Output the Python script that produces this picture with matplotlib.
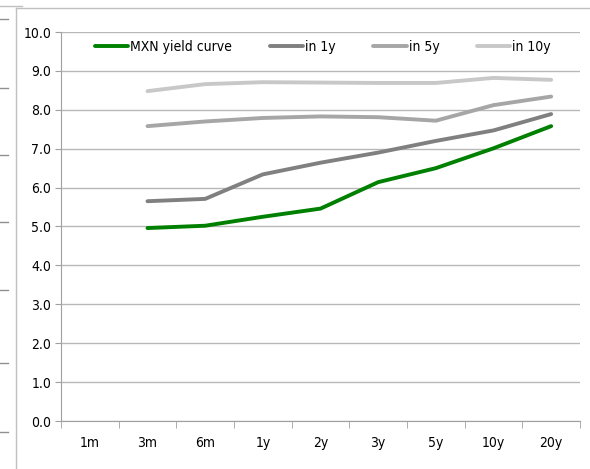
import matplotlib.pyplot as plt
from matplotlib.lines import Line2D

plt.rcParams['font.family'] = ['DejaVu Sans']
plt.rcParams['font.stretch'] = 'condensed'

# tenors and curves
tenors = ['1m', '3m', '6m', '1y', '2y', '3y', '5y', '10y', '20y']
mxn_curve = [None, 4.96, 5.02, 5.25, 5.46, 6.14, 6.50, 7.01, 7.58]
in_1y = [None, 5.65, 5.71, 6.34, 6.64, 6.90, 7.20, 7.47, 7.89]
in_5y = [None, 7.58, 7.70, 7.79, 7.83, 7.81, 7.72, 8.12, 8.34]
in_10y = [None, 8.48, 8.66, 8.71, 8.70, 8.69, 8.69, 8.82, 8.77]

series = [
    ('MXN yield curve', mxn_curve, '#008000'),
    ('in 1y', in_1y, '#808080'),
    ('in 5y', in_5y, '#a6a6a6'),
    ('in 10y', in_10y, '#c8c8c8'),
]

fig = plt.figure(figsize=(5.9, 4.69), dpi=100)
ax = fig.add_axes([61 / 590, 1 - 421 / 469, 519 / 590, 389 / 469])

x = list(range(len(tenors)))
for name, vals, col in series:
    xs = [i for i, v in zip(x, vals) if v is not None]
    ys = [v for v in vals if v is not None]
    ax.plot(xs, ys, color=col, lw=2.8, label=name, solid_capstyle='round', zorder=3)

ax.set_xlim(-0.5, len(tenors) - 0.5)
ax.set_ylim(0, 10)
ax.set_yticks([i for i in range(11)])
ax.set_yticklabels([f'{i:.1f}' for i in range(11)], fontsize=10)
ax.set_xticks(x)
ax.set_xticklabels(tenors, fontsize=10)
ax.tick_params(axis='x', length=0, pad=11)
ax.tick_params(axis='y', length=4, color='#a0a0a0', pad=3)
ax.set_xticks([i - 0.5 for i in range(len(tenors) + 1)], minor=True)
ax.tick_params(axis='x', which='minor', length=5, color='#a0a0a0')
ax.grid(axis='y', color='#b8b8b8', lw=1)
ax.set_axisbelow(True)
for s in ['top', 'right']:
    ax.spines[s].set_visible(False)
ax.spines['left'].set_color('#a0a0a0')
ax.spines['bottom'].set_color('#a0a0a0')

leg = ax.legend(loc='upper center', ncol=4, frameon=False, fontsize=10,
                bbox_to_anchor=(0.505, 1.012), handlelength=2.4, handletextpad=0.15,
                columnspacing=2.7)

# frame of the chart box and stray marks of a neighbouring chart
fig.add_artist(Line2D([16 / 590, 16 / 590], [0, 1 - 8 / 469],
                      transform=fig.transFigure, color='#c0c0c0', lw=1))
fig.add_artist(Line2D([16 / 590, 1], [1 - 8 / 469, 1 - 8 / 469],
                      transform=fig.transFigure, color='#c0c0c0', lw=1))
fig.add_artist(Line2D([0, 22 / 590], [1 - 6 / 469, 1 - 6 / 469],
                      transform=fig.transFigure, color='#c0c0c0', lw=1))
for yp in [19, 88, 155, 222, 290, 363, 432]:
    fig.add_artist(Line2D([0, 8 / 590], [1 - yp / 469, 1 - yp / 469],
                          transform=fig.transFigure, color='#909090', lw=1))

fig.savefig('out.png', dpi=100)
